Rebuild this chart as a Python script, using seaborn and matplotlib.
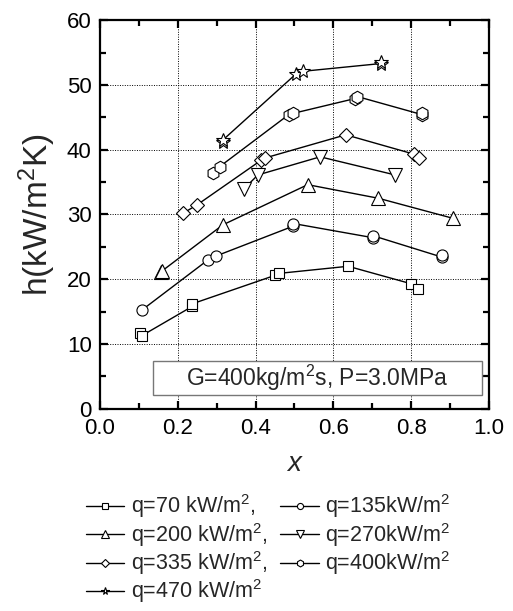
import numpy as np
import pandas as pd
import matplotlib
matplotlib.use("Agg")
import matplotlib.pyplot as plt
import seaborn as sns
from matplotlib.patches import Rectangle

# vapour quality x and heat transfer coefficient h (kW/m2K)
x_70 = [0.103, 0.108, 0.237, 0.237, 0.450, 0.460, 0.638, 0.800, 0.818]
h_70 = [11.7, 11.3, 16.2, 15.8, 20.6, 20.9, 22.0, 19.3, 18.5]

x_135 = [0.109, 0.278, 0.299, 0.497, 0.497, 0.703, 0.703, 0.880, 0.880]
h_135 = [15.3, 23.0, 23.6, 28.2, 28.6, 26.4, 26.7, 23.4, 23.7]

x_200 = [0.158, 0.160, 0.316, 0.534, 0.716, 0.908]
h_200 = [21.1, 21.3, 28.4, 34.6, 32.5, 29.4]

x_270 = [0.369, 0.406, 0.566, 0.759]
h_270 = [33.9, 36.1, 38.9, 36.1]

x_335 = [0.214, 0.250, 0.415, 0.423, 0.632, 0.808, 0.820]
h_335 = [30.2, 31.5, 38.4, 38.7, 42.3, 39.3, 38.7]

x_400 = [0.291, 0.308, 0.485, 0.496, 0.656, 0.662, 0.829, 0.829]
h_400 = [36.4, 37.4, 45.4, 45.6, 47.9, 48.2, 45.6, 45.4]

x_470 = [0.316, 0.316, 0.504, 0.521, 0.722, 0.722]
h_470 = [41.2, 41.5, 51.7, 52.1, 53.6, 53.3]

series = [
    ("q=70 kW/m$^2$,", x_70, h_70, "s"),
    ("q=135kW/m$^2$", x_135, h_135, "o"),
    ("q=200 kW/m$^2$,", x_200, h_200, "^"),
    ("q=270kW/m$^2$", x_270, h_270, "v"),
    ("q=335 kW/m$^2$,", x_335, h_335, "D"),
    ("q=400kW/m$^2$", x_400, h_400, "h"),
    ("q=470 kW/m$^2$", x_470, h_470, "*"),
]
marker_sizes = {"s": 7.5, "o": 8, "^": 9.5, "v": 9.5, "D": 7.5, "h": 9, "*": 10}

sns.set_style("ticks")
plt.rcParams["font.family"] = ["Liberation Sans", "DejaVu Sans"]
plt.rcParams["mathtext.fontset"] = "custom"
plt.rcParams["mathtext.rm"] = "Liberation Sans"
plt.rcParams["mathtext.it"] = "Liberation Sans:italic"

fig = plt.figure(figsize=(5.13, 6.11), dpi=100)
ax = fig.add_axes([0.195, 0.331, 0.758, 0.636])

handles = {}
for label, xs, hs, mk in series:
    df = pd.DataFrame({"x": xs, "h": hs})
    sns.lineplot(data=df, x="x", y="h", ax=ax, color="black", linewidth=1.0,
                 marker=mk, markersize=marker_sizes[mk], markerfacecolor="white",
                 markeredgecolor="black", markeredgewidth=0.8, label=label,
                 sort=True, estimator=None, legend=False, zorder=3)
    handles[label] = ax.lines[-1]

ax.set_xlim(0, 1.0)
ax.set_ylim(0, 60)
ax.set_xticks(np.arange(0, 1.01, 0.2))
ax.set_xticks(np.arange(0.1, 1.0, 0.2), minor=True)
ax.set_yticks(np.arange(0, 61, 10))
ax.set_yticks(np.arange(5, 60, 10), minor=True)
ax.xaxis.set_major_formatter(matplotlib.ticker.FormatStrFormatter("%.1f"))
ax.tick_params(which="both", direction="in", top=True, right=True,
               width=1.6, labelsize=16, color="black", labelcolor="black")
ax.tick_params(which="major", length=6)
ax.tick_params(which="minor", length=4)
ax.tick_params(axis="x", which="major", pad=7)
ax.tick_params(axis="y", which="major", pad=6)
for sp in ax.spines.values():
    sp.set_linewidth(1.6)
    sp.set_color("black")
    sp.set_visible(True)
ax.grid(True, which="major", linestyle=(0, (1, 1.5)), color="black", linewidth=0.7)
ax.set_axisbelow(True)

ax.set_xlabel("$\\mathit{x}$", fontsize=20, labelpad=8)
ax.set_ylabel("h(kW/m$^2$K)", fontsize=24, labelpad=6)

ax.add_patch(Rectangle((0.136, 2.2), 0.846, 5.1, facecolor="white",
                       edgecolor="#777777", linewidth=1.0, zorder=4))
ax.text(0.559, 4.7, "G=400kg/m$^2$s, P=3.0MPa", ha="center", va="center",
        fontsize=16.5, zorder=5)

order = ["q=70 kW/m$^2$,", "q=200 kW/m$^2$,", "q=335 kW/m$^2$,", "q=470 kW/m$^2$",
         "q=135kW/m$^2$", "q=270kW/m$^2$", "q=400kW/m$^2$"]
fig.legend([handles[k] for k in order], order, loc="upper left",
           bbox_to_anchor=(0.15, 0.208), ncol=2, frameon=False, fontsize=15.5,
           markerscale=0.55, handlelength=1.8, handletextpad=0.3,
           columnspacing=0.6, labelspacing=0.02, borderaxespad=0)

fig.savefig("out.png", dpi=100)
